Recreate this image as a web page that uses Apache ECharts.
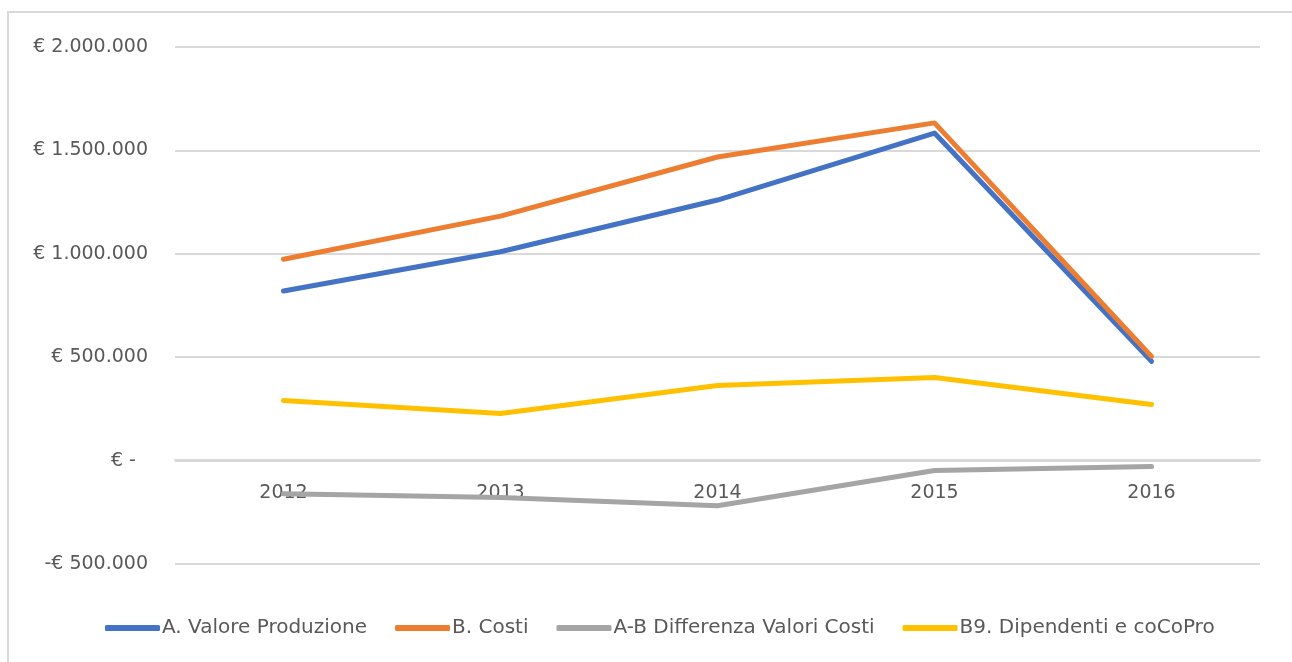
<!DOCTYPE html>
<html>
<head>
<meta charset="utf-8">
<script src="https://cdn.jsdelivr.net/npm/echarts@6/dist/echarts.min.js"></script>
<style>
  html, body { margin: 0; padding: 0; background: #fff; }
  #chart { width: 1292px; height: 662px; }
</style>
</head>
<body>
<div id="chart"></div>
<script>
// anni e valori
const anni = ['2012', '2013', '2014', '2015', '2016'];
const valoreProduzione = [820000, 1010000, 1260000, 1584000, 480000];
const costi = [974000, 1182000, 1468000, 1633000, 504000];
const differenza = [-160000, -179000, -218000, -48000, -29000];
const dipendenti = [291000, 228000, 363000, 402000, 271000];

const nomi = ['A. Valore Produzione', 'B. Costi', 'A-B Differenza Valori Costi', 'B9. Dipendenti e coCoPro'];
const colori = ['#4472C4', '#ED7D31', '#A5A5A5', '#FFC000'];

const myChart = echarts.init(document.getElementById('chart'));

// formato contabile tipo Excel
const euro = v => {
  if (v === 0) return '€ -  ';
  const s = Math.abs(v).toString().replace(/\B(?=(\d{3})+(?!\d))/g, '.');
  return (v < 0 ? '-€ ' : '€ ') + s;
};

const serie = (nome, dati, i) => ({
  name: nome,
  type: 'line',
  data: dati,
  showSymbol: false,
  symbol: 'none',
  lineStyle: { width: 5, color: colori[i], cap: 'round', join: 'round' },
  itemStyle: { color: colori[i] }
});

const option = {
  animation: false,
  color: colori,
  textStyle: { fontFamily: 'DejaVu Sans' },
  graphic: [{
    // cornice del grafico (solo lato sinistro e superiore visibili)
    type: 'polyline',
    shape: { points: [[8, 700], [8, 12], [1400, 12]] },
    style: { fill: null, stroke: '#d9d9d9', lineWidth: 2 },
    silent: true
  }],
  grid: { left: 175, right: 32, top: 47, bottom: 98 },
  legend: {
    data: nomi,
    left: 100,
    top: 613,
    icon: 'roundRect',
    itemWidth: 55,
    itemHeight: 6,
    itemGap: 28,
    textStyle: { color: '#595959', fontSize: 20, fontFamily: 'DejaVu Sans', padding: [0, 0, 0, -3] }
  },
  xAxis: {
    type: 'category',
    data: anni,
    boundaryGap: true,
    offset: -104, // asse sulla linea dello zero
    axisLine: { onZero: false, lineStyle: { color: '#d9d9d9', width: 2 } },
    axisTick: { show: false },
    axisLabel: { color: '#595959', fontSize: 19, margin: 24 }
  },
  yAxis: {
    type: 'value',
    min: -500000,
    max: 2000000,
    interval: 500000,
    axisLine: { show: false },
    axisTick: { show: false },
    splitLine: { lineStyle: { color: '#d9d9d9', width: 2 } },
    axisLabel: { color: '#595959', fontSize: 19, margin: 27, formatter: euro }
  },
  series: [
    serie(nomi[0], valoreProduzione, 0),
    serie(nomi[1], costi, 1),
    serie(nomi[2], differenza, 2),
    serie(nomi[3], dipendenti, 3)
  ]
};

myChart.setOption(option);
</script>
</body>
</html>
